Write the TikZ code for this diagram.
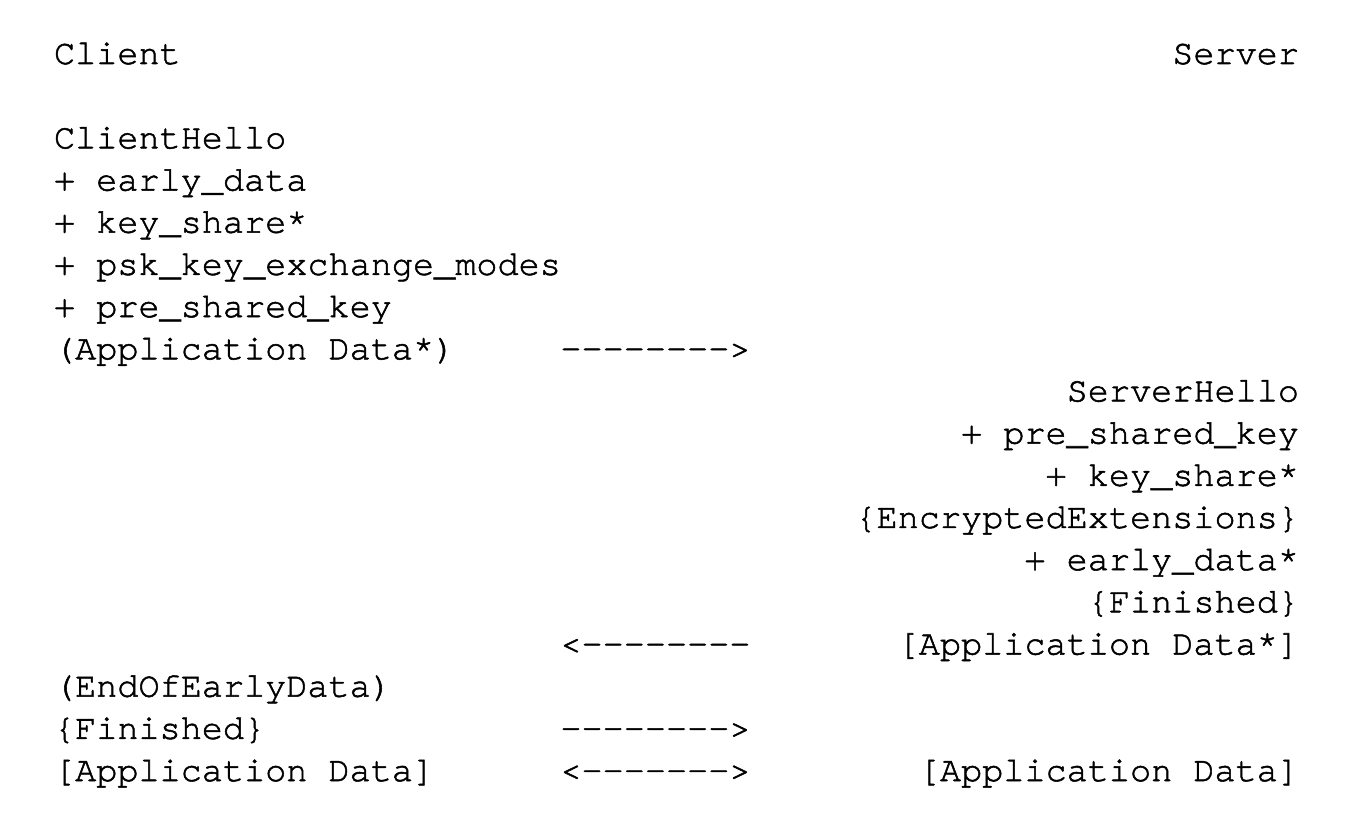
\documentclass[tikz,border=0pt]{standalone}
\usepackage{fontspec}
\setmonofont{TeX Gyre Cursor}[FakeBold=1.5]
\begin{document}
\begin{tikzpicture}[x=0.75pt,y=-0.75pt,
  txt/.style={inner sep=0pt,outer sep=0pt,font=\ttfamily\fontsize{26.4}{30}\selectfont},
  lft/.style={txt,anchor=base west},
  rgt/.style={txt,anchor=base east}]
\useasboundingbox[fill=white] (0,0) rectangle (1354,820);
\def\xl{54}
\def\xa{560.4}
\def\xr{1299}
\def\dy{42.18}
\def\yo{64}
\node[lft] (client) at (\xl,\yo) {Client};
\node[rgt] (server) at (\xr,\yo) {Server};
\node[lft] (ch) at (\xl,\yo+2*\dy) {ClientHello};
\node[lft] (ed) at (\xl,\yo+3*\dy) {+ early\_data};
\node[lft] (ks) at (\xl,\yo+4*\dy) {+ key\_share*};
\node[lft] (pskm) at (\xl,\yo+5*\dy) {+ psk\_key\_exchange\_modes};
\node[lft] (psk) at (\xl,\yo+6*\dy) {+ pre\_shared\_key};
\node[lft] (ad0) at (\xl,\yo+7*\dy) {(Application Data*)};
\node[lft] (a1) at (\xa,\yo+7*\dy) {-------->};
\node[rgt] (sh) at (\xr,\yo+8*\dy) {ServerHello};
\node[rgt] (spsk) at (\xr,\yo+9*\dy) {+ pre\_shared\_key};
\node[rgt] (sks) at (\xr,\yo+10*\dy) {+ key\_share*};
\node[rgt] (ee) at (\xr,\yo+11*\dy) {\{EncryptedExtensions\}};
\node[rgt] (sed) at (\xr,\yo+12*\dy) {+ early\_data*};
\node[rgt] (sfin) at (\xr,\yo+13*\dy) {\{Finished\}};
\node[lft] (a2) at (\xa,\yo+14*\dy) {<--------};
\node[rgt] (sad) at (\xr,\yo+14*\dy) {[Application Data*]};
\node[lft] (eoed) at (\xl,\yo+15*\dy) {(EndOfEarlyData)};
\node[lft] (cfin) at (\xl,\yo+16*\dy) {\{Finished\}};
\node[lft] (a3) at (\xa,\yo+16*\dy) {-------->};
\node[lft] (cad) at (\xl,\yo+17*\dy) {[Application Data]};
\node[lft] (a4) at (\xa,\yo+17*\dy) {<------->};
\node[rgt] (sad2) at (\xr,\yo+17*\dy) {[Application Data]};
\end{tikzpicture}
\end{document}
